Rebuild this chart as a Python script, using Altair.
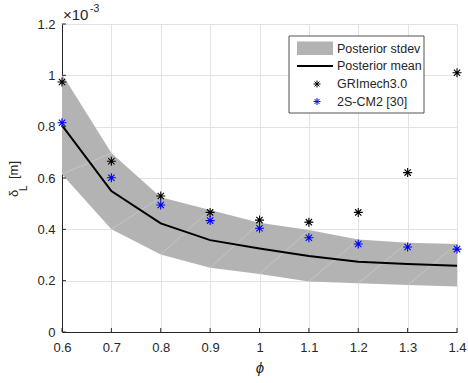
import altair as alt
import pandas as pd

# Equivalence ratio
phi = [0.6, 0.7, 0.8, 0.9, 1.0, 1.1, 1.2, 1.3, 1.4]

# Flame thickness values, in units of 1e-3 m
post_mean = [0.805, 0.549, 0.423, 0.358, 0.325, 0.296, 0.274, 0.265, 0.258]
post_upper = [1.005, 0.697, 0.525, 0.475, 0.426, 0.397, 0.360, 0.348, 0.343]
post_lower = [0.615, 0.400, 0.302, 0.250, 0.226, 0.197, 0.190, 0.183, 0.177]
grimech = [0.974, 0.665, 0.530, 0.466, 0.436, 0.428, 0.466, 0.621, 1.010]
cm2 = [0.815, 0.601, 0.495, 0.434, 0.404, 0.367, 0.343, 0.331, 0.323]

x_ticks = [0.6, 0.7, 0.8, 0.9, 1.0, 1.1, 1.2, 1.3, 1.4]
y_ticks = [0.0, 0.2, 0.4, 0.6, 0.8, 1.0, 1.2]

SCALE = 1e-3
W, H = 395, 308
FONT = "Liberation Sans"
INK = "#262626"

df = pd.DataFrame({
    "phi": phi,
    "mean": [v * SCALE for v in post_mean],
    "upper": [v * SCALE for v in post_upper],
    "lower": [v * SCALE for v in post_lower],
    "gri": [v * SCALE for v in grimech],
    "cm2": [v * SCALE for v in cm2],
})

# diagonal seams of the shaded patch (lower[i] -> upper[i+1])
seams = pd.DataFrame({
    "x": phi[:-1],
    "y": [v * SCALE for v in post_lower[:-1]],
    "x2": phi[1:],
    "y2": [v * SCALE for v in post_upper[1:]],
})

x_axis = alt.Axis(values=x_ticks, grid=True, labelExpr="format(datum.value, '.1~f')",
                  labelFlush=False, labelOverlap=False,
                  title="ϕ", titleFontStyle="italic", titleFont=FONT, titleFontSize=15,
                  titleFontWeight="normal", titleColor=INK, titlePadding=6, labelPadding=9)
y_axis = alt.Axis(values=[v * SCALE for v in y_ticks], grid=True, labelFlush=False,
                  labelOverlap=False,
                  labelExpr="format(datum.value * 1000, '.1~f')", title=None, labelPadding=7)

x_scale = alt.Scale(domain=[0.6, 1.4], nice=False, zero=False)
y_scale = alt.Scale(domain=[0, 1.2 * SCALE], nice=False)

X = lambda f: alt.X(f, type="quantitative", scale=x_scale, axis=x_axis)
Y = lambda f: alt.Y(f, type="quantitative", scale=y_scale, axis=y_axis)

base = alt.Chart(df)

band = base.mark_area(color="#b3b3b3", opacity=1).encode(x=X("phi"), y=Y("lower"), y2="upper")

seam = alt.Chart(seams).mark_rule(color="white", opacity=0.35, strokeWidth=0.7).encode(
    x=X("x"), y=Y("y"), x2="x2", y2="y2")

mean_line = base.mark_line(color="black", strokeWidth=2).encode(x=X("phi"), y=Y("mean"))

STAR = "M-1,0L1,0M0,-1L0,1M-0.7,-0.7L0.7,0.7M-0.7,0.7L0.7,-0.7"

gri_pts = base.mark_point(shape=STAR, filled=False, size=81, strokeWidth=1.1, color="black",
                          opacity=1).encode(x=X("phi"), y=Y("gri"))
cm2_pts = base.mark_point(shape=STAR, filled=False, size=81, strokeWidth=1.1, color="#0000ff",
                          opacity=1).encode(x=X("phi"), y=Y("cm2"))

# inward tick marks
xt = alt.Chart(pd.DataFrame({"t": x_ticks})).mark_rule(color=INK, strokeWidth=1).encode(
    x=X("t"), y=alt.value(H), y2=alt.value(H - 4))
yt = alt.Chart(pd.DataFrame({"t": [v * SCALE for v in y_ticks]})).mark_rule(
    color=INK, strokeWidth=1).encode(y=Y("t"), x=alt.value(0), x2=alt.value(4))

one = alt.Data(values=[{}])


def text(s, x, y, size=12.5, **kw):
    return alt.Chart(one).mark_text(text=s, font=FONT, fontSize=size, color=INK,
                                    align=kw.pop("align", "left"),
                                    baseline=kw.pop("baseline", "middle"), **kw).encode(
        x=alt.value(x), y=alt.value(y))


# legend box
lg_box = alt.Chart(one).mark_rect(fill="white", stroke=INK, strokeWidth=0.8).encode(
    x=alt.value(227), x2=alt.value(362), y=alt.value(12), y2=alt.value(89))
lg_patch = alt.Chart(one).mark_rect(fill="#b3b3b3").encode(
    x=alt.value(235), x2=alt.value(271), y=alt.value(17.5), y2=alt.value(31))
lg_line = alt.Chart(one).mark_rule(color="black", strokeWidth=2).encode(
    x=alt.value(235), x2=alt.value(271), y=alt.value(42))
lg_gri = alt.Chart(one).mark_point(shape=STAR, filled=False, size=49, strokeWidth=1,
                                   color="black", opacity=1).encode(
    x=alt.value(255), y=alt.value(60))
lg_cm2 = alt.Chart(one).mark_point(shape=STAR, filled=False, size=49, strokeWidth=1,
                                   color="#0000ff", opacity=1).encode(
    x=alt.value(255), y=alt.value(77.5))
lg_texts = [
    text("Posterior stdev", 275, 24.5),
    text("Posterior mean", 275, 42),
    text("GRImech3.0", 275, 60),
    text("2S-CM2 [30]", 275, 77.5),
]

# exponent marker above the y axis
exp_base = text("×10", 1, -4.5, size=15, baseline="alphabetic")
exp_pow = text("-3", 28, -12, size=10.5, baseline="alphabetic")

# y-axis label: delta with subscript L
ylab_d = text("δ", -44, 173, size=13, baseline="alphabetic", angle=270)
ylab_l = text("L", -35, 167, size=10, baseline="alphabetic", angle=270)
ylab_u = text("[m]", -44, 155, size=13, baseline="alphabetic", angle=270)

chart = alt.layer(
    band, seam, mean_line, gri_pts, cm2_pts, xt, yt,
    lg_box, lg_patch, lg_line, lg_gri, lg_cm2, *lg_texts,
    exp_base, exp_pow, ylab_d, ylab_l, ylab_u,
).properties(
    width=W, height=H,
    autosize=alt.AutoSizeParams(type="none"),
    padding={"left": 62, "top": 24, "right": 11, "bottom": 51},
    background="white",
).configure_view(strokeWidth=0).configure_axis(
    labelFont=FONT, labelFontSize=13, labelColor=INK,
    domainColor=INK, domainWidth=1, ticks=False,
    gridColor="#e3e3e3", gridWidth=1,
)

chart.save("out.html", embed_options={"renderer": "svg", "actions": False})
